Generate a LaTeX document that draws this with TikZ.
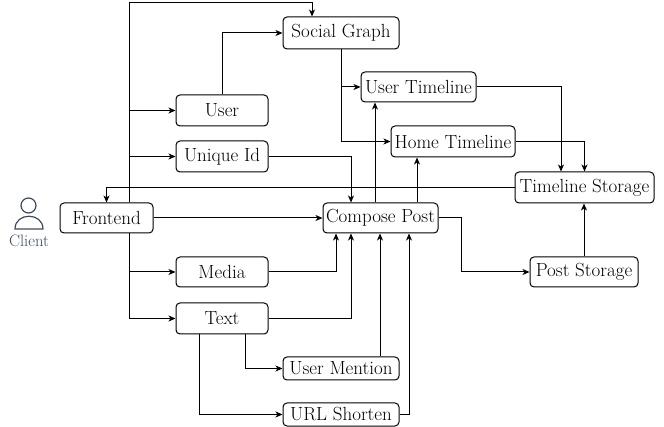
\documentclass[tikz,border=0pt]{standalone}
\usetikzlibrary{arrows.meta}
\definecolor{slate}{HTML}{3D4A5C}
\begin{document}
\begin{tikzpicture}[x=1pt,y=-1pt,
  box/.style={draw=black,line width=1pt,rounded corners=4pt,inner sep=0pt,
    font=\rmfamily\fontsize{19}{21}\selectfont,text=black},
  arr/.style={draw=black,line width=1pt,-{Stealth[length=7pt,width=6pt,inset=2pt]}}]
\fill[white] (0,0) rectangle (664,427);
\useasboundingbox (0,0) rectangle (664,427);
% nodes
\node[box,minimum width=116pt,minimum height=32pt] (sg) at (341,33) {Social Graph};
\node[box,minimum width=92pt,minimum height=31pt] (user) at (222,110.5) {User};
\node[box,minimum width=92pt,minimum height=31pt] (uid) at (222,156.5) {Unique Id};
\node[box,minimum width=93pt,minimum height=30pt] (fe) at (106.5,218) {Frontend};
\node[box,minimum width=115pt,minimum height=30pt] (ut) at (418.5,87) {User Timeline};
\node[box,minimum width=124pt,minimum height=31pt] (ht) at (453,141.5) {Home Timeline};
\node[box,minimum width=139pt,minimum height=31pt] (ts) at (584.5,187.5) {Timeline Storage};
\node[box,minimum width=115pt,minimum height=30pt] (cp) at (380.5,218) {Compose Post};
\node[box,minimum width=92pt,minimum height=30pt] (media) at (222,272) {Media};
\node[box,minimum width=92pt,minimum height=31pt] (text) at (222,318.5) {Text};
\node[box,minimum width=116pt,minimum height=23pt] (um) at (341,368.5) {User Mention};
\node[box,minimum width=116pt,minimum height=23pt] (url) at (341,414.5) {URL Shorten};
\node[box,minimum width=108pt,minimum height=30pt] (ps) at (584,272) {Post Storage};
% client icon
\draw[slate,line width=1.2pt] (28.5,205.5) circle[radius=7.5];
\draw[slate,line width=1.2pt] (15,229) .. controls (15,212) and (43,212) .. (43,229) -- cycle;
\node[text=slate,font=\rmfamily\fontsize{16.5}{18}\selectfont,inner sep=0pt] (client) at (29,241) {Client};
% connectors
\draw[arr] (fe.north -| 129,0) -- (129,3) -- (312,3) -- (sg.north -| 312,0);
\draw[arr] (fe.north -| 129,0) |- (user.west);
\draw[arr] (fe.north -| 129,0) |- (uid.west);
\draw[arr] (fe.south -| 129,0) |- (media.west);
\draw[arr] (fe.south -| 129,0) |- (text.west);
\draw[arr] (fe.east) -- (cp.west);
\draw[arr] (user.north) |- (sg.west);
\draw[arr] (uid.east) -| (cp.north -| 351,0);
\draw[arr] (media.east) -| (cp.south -| 336,0);
\draw[arr] (text.east) -| (cp.south -| 351,0);
\draw[arr] (um.north -| 380,0) -- (cp.south -| 380,0);
\draw[arr] (url.east) -| (cp.south -| 409,0);
\draw[arr] (text.south -| 245,0) |- (um.west);
\draw[arr] (text.south -| 199,0) |- (url.west);
\draw[arr] (cp.north -| 375,0) -- (ut.south -| 375,0);
\draw[arr] (cp.north -| 417,0) -- (ht.south -| 417,0);
\draw[arr] (cp.east) -- (461,218) |- (ps.west);
\draw[arr] (ps.north) -- (ps.north |- ts.south);
\draw[arr] (sg.south) |- (ut.west);
\draw[arr] (sg.south) |- (ht.west);
\draw[arr] (ut.east) -| (ts.north -| 561,0);
\draw[arr] (ht.east) -| (ts.north);
\draw[arr] (ts.west) -| (fe.north);
\end{tikzpicture}
\end{document}
